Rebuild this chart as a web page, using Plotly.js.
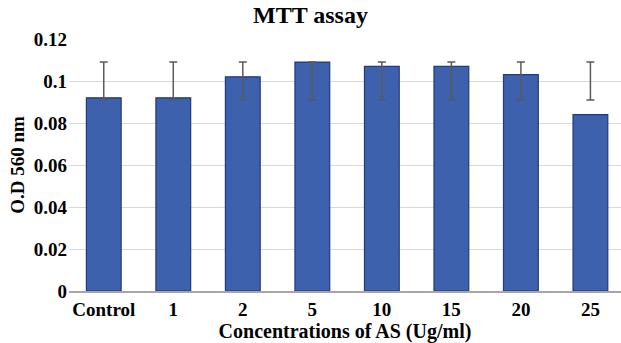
<!DOCTYPE html>
<html>
<head>
<meta charset="utf-8">
<script src="https://cdn.plot.ly/plotly-3.0.1.min.js"></script>
<style>html,body{margin:0;padding:0;background:#fff;overflow:hidden}</style>
</head>
<body>
<div id="chart" style="width:621px;height:343px"></div>
<script>
// Data
const categories = ["Control", "1", "2", "5", "10", "15", "20", "25"];
const odValues   = [0.092, 0.092, 0.102, 0.109, 0.107, 0.107, 0.103, 0.084];
// Whisker ends (lower and upper) as drawn in the picture
const errLow     = [0.091, 0.091, 0.091, 0.091, 0.091, 0.091, 0.091, 0.091];
const errHigh    = [0.109, 0.109, 0.109, 0.109, 0.109, 0.109, 0.109, 0.109];
const yTicks     = [0, 0.02, 0.04, 0.06, 0.08, 0.1, 0.12];
const yTickText  = ["0", "0.02", "0.04", "0.06", "0.08", "0.1", "0.12"];

const font = "Liberation Serif, Times New Roman, serif";

const bars = {
  type: "bar",
  x: categories,
  y: odValues,
  marker: {color: "#3d61ad", line: {color: "#22397a", width: 1.2}},
  hoverinfo: "x+y",
  showlegend: false
};

const whiskers = {
  type: "scatter",
  mode: "markers",
  x: categories,
  y: errLow,
  marker: {size: 1, opacity: 0},
  error_y: {
    type: "data",
    symmetric: false,
    array: errHigh.map((h, i) => h - errLow[i]),
    arrayminus: errLow.map(() => 0),
    color: "#5a5a5a",
    thickness: 1.5,
    width: 4
  },
  hoverinfo: "skip",
  showlegend: false
};

const f = (size) => ({family: font, size: size, color: "#000", weight: "bold"});

const layout = {
  width: 621,
  height: 343,
  margin: {l: 69, r: 0, t: 39, b: 52, pad: 0},
  paper_bgcolor: "#ffffff",
  plot_bgcolor: "#ffffff",
  bargap: 0.5,
  font: {family: font, color: "#000000"},
  title: {
    text: "MTT assay",
    font: f(24),
    x: 0.5, xanchor: "center",
    y: 1 - 15 / 343, yanchor: "middle", yref: "container"
  },
  xaxis: {
    type: "category",
    range: [-0.5, 7.44],
    showgrid: false,
    showline: true,
    linecolor: "#a6a6a6",
    linewidth: 1.5,
    ticks: "",
    tickfont: f(19),
    ticklabelstandoff: 1,
    title: {text: "Concentrations of AS (Ug/ml)", font: f(20), standoff: 1}
  },
  yaxis: {
    range: [0, 0.12],
    tickvals: yTicks,
    ticktext: yTickText,
    showgrid: true,
    gridcolor: "#d9d9d9",
    gridwidth: 1,
    zeroline: false,
    showline: false,
    ticks: "",
    tickfont: f(19),
    ticklabelstandoff: 1,
    title: {text: "O.D 560 nm", font: f(19), standoff: 4}
  }
};

Plotly.newPlot("chart", [bars, whiskers], layout, {displayModeBar: false, staticPlot: true});
</script>
</body>
</html>
